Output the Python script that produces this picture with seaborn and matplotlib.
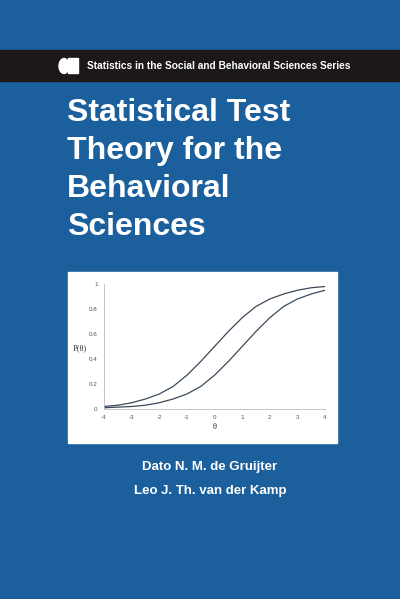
import matplotlib
matplotlib.use("Agg")
import matplotlib.pyplot as plt
import matplotlib.patches as mp
import seaborn as sns
import pandas as pd

theta = [-4, -3.5, -3, -2.5, -2, -1.5, -1, -0.5, 0, 0.5, 1, 1.5, 2, 2.5, 3, 3.5, 4]
p_easy = [0.02, 0.03, 0.05, 0.08, 0.12, 0.18, 0.27, 0.38, 0.5, 0.62, 0.73, 0.82, 0.88, 0.92, 0.95, 0.97, 0.98]
p_hard = [0.01, 0.015, 0.02, 0.03, 0.05, 0.08, 0.12, 0.18, 0.27, 0.38, 0.5, 0.62, 0.73, 0.82, 0.88, 0.92, 0.95]
xticks = [-4, -3, -2, -1, 0, 1, 2, 3, 4]
yticks = [0, 0.2, 0.4, 0.6, 0.8, 1]
ytick_labels = ["0", "0.2", "0.4", "0.6", "0.8", "1"]

sns.set_theme(style="white")
plt.rcParams['font.family'] = ['Liberation Sans', 'DejaVu Sans']

W, H = 400, 599
fig = plt.figure(figsize=(W/100, H/100), dpi=100)
fig.patch.set_facecolor("#1b5f9c")

def fy(y): return 1 - y / H
def fx(x): return x / W

fig.patches.append(mp.Rectangle((0, fy(81)), 1, 31/H, transform=fig.transFigure, color="#1c1819", zorder=0))
fig.patches.append(mp.Circle((fx(64), fy(66)), 5/W, transform=fig.transFigure, color="white"))
fig.patches.append(mp.Rectangle((fx(68), fy(73)), 10/W, 15/H, transform=fig.transFigure, color="white"))
fig.text(fx(87), fy(66), "Statistics in the Social and Behavioral Sciences Series", color="white",
         fontsize=7.3, fontweight="bold", va="center", ha="left")

for i, line in enumerate(["Statistical Test", "Theory for the", "Behavioral", "Sciences"]):
    fig.text(fx(67), fy(113 + i * 38), line, color="white", fontsize=23, fontweight="bold",
             va="center", ha="left")

fig.patches.append(mp.Rectangle((fx(68), fy(443)), 269/W, 171/H, transform=fig.transFigure, color="white", zorder=1))

ax = fig.add_axes([fx(104), fy(409), (325 - 104)/W, (409 - 284)/H])
ax.set_zorder(2)
ax.patch.set_alpha(0)
df = pd.DataFrame({"theta": theta * 2, "p": p_easy + p_hard,
                   "item": ["a"] * len(theta) + ["b"] * len(theta)})
sns.lineplot(data=df, x="theta", y="p", units="item", estimator=None, color="#3a4a5a",
             lw=0.9, ax=ax, legend=False)
ax.set_xlim(-4, 4)
ax.set_ylim(0, 1)
ax.set_xticks(xticks)
ax.set_xticklabels([str(t) for t in xticks])
ax.set_yticks(yticks)
ax.set_yticklabels(ytick_labels)
ax.tick_params(labelsize=4.5, colors="#555555", length=1.5, width=0.5, pad=3)
for s in ["top", "right"]:
    ax.spines[s].set_visible(False)
for s in ["left", "bottom"]:
    ax.spines[s].set_color("#bbbbbb")
    ax.spines[s].set_linewidth(0.6)
ax.set_xlabel("θ", fontsize=6, color="#333333", family="Liberation Serif", labelpad=2)
ax.set_ylabel("")
fig.text(fx(73), fy(348), "P(θ)", fontsize=6, color="#333333", family="Liberation Serif", va="center")

fig.text(fx(210), fy(467), "Dato N. M. de Gruijter", color="white", fontsize=9.5, fontweight="bold", ha="center", va="center")
fig.text(fx(210), fy(491), "Leo J. Th. van der Kamp", color="white", fontsize=9.5, fontweight="bold", ha="center", va="center")

fig.savefig("out.png", dpi=100, facecolor=fig.get_facecolor())
